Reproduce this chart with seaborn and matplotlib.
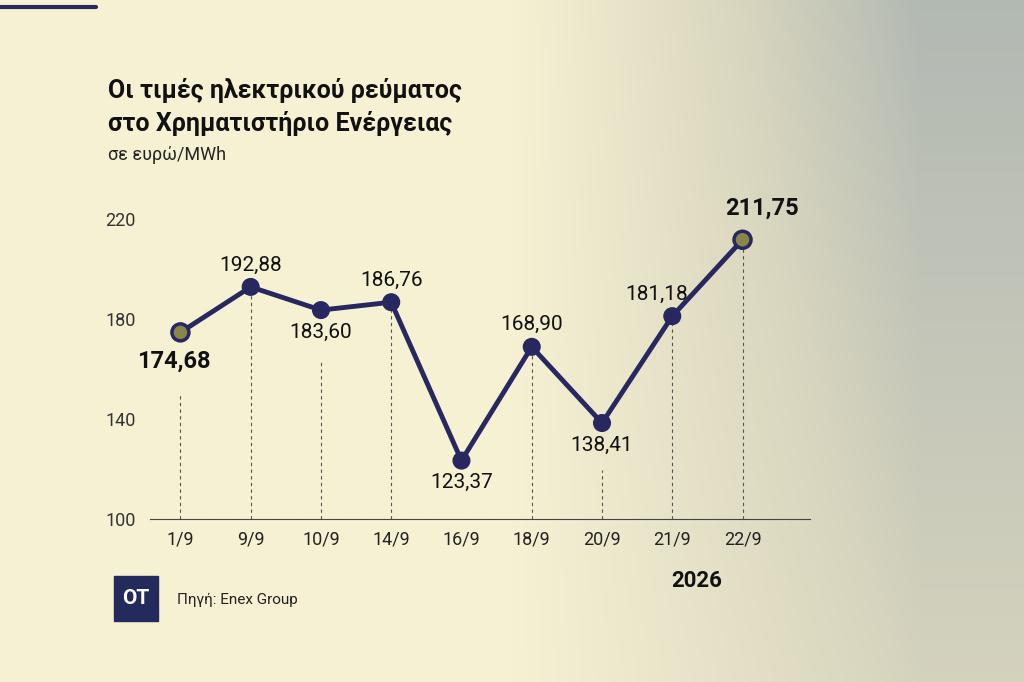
import numpy as np
import matplotlib
matplotlib.use("Agg")
import matplotlib.pyplot as plt
import seaborn as sns
import pandas as pd
from matplotlib.colors import LinearSegmentedColormap

dates = ["1/9", "9/9", "10/9", "14/9", "16/9", "18/9", "20/9", "21/9", "22/9"]
prices = [174.68, 192.88, 183.60, 186.76, 123.37, 168.90, 138.41, 181.18, 211.75]
labels = ["174,68", "192,88", "183,60", "186,76", "123,37", "168,90", "138,41", "181,18", "211,75"]
yticks = [100, 140, 180, 220]

sns.set_theme(style="white")
plt.rcParams['font.family'] = ['Roboto', 'DejaVu Sans']
navy = "#27285f"
fig = plt.figure(figsize=(10.24, 6.82), dpi=100)

bg = fig.add_axes([0, 0, 1, 1], zorder=-10)
xx = np.linspace(0, 1, 400)
yy = np.linspace(0, 1, 300)
X, Y = np.meshgrid(xx, yy)
t = np.clip((X - 0.5) / 0.4, 0, 1) * (0.55 + 0.35 * Y)
cmap = LinearSegmentedColormap.from_list("bg", ["#f6f1d3", "#d9d6bf", "#a9b2b0"])
bg.imshow(t, cmap=cmap, aspect="auto", extent=[0, 1, 0, 1], origin="lower", vmin=0, vmax=1)
bg.set_xlim(0, 1); bg.set_ylim(0, 1); bg.axis("off")
bg.plot([0, 0.094], [0.99, 0.99], color=navy, lw=3)

ax = fig.add_axes([0.146, 0.239, 0.645, 0.458])
ax.patch.set_alpha(0)
df = pd.DataFrame({"x": np.arange(len(dates)), "y": prices})
sns.lineplot(data=df, x="x", y="y", ax=ax, color=navy, lw=3.5, zorder=3)
fills = ["#8a8548" if i in (0, len(prices)-1) else navy for i in range(len(prices))]
ax.scatter(df.x, df.y, s=[150 if i in (0, 8) else 110 for i in range(9)], c=fills,
           edgecolors=navy, linewidths=2.5, zorder=4)

above = {1, 3, 5, 7, 8}
xoff = {7: -0.22, 8: 0.27, 0: -0.1}
top_dash = {0: 150, 2: 164, 4: 100, 6: 119.5}
for i, (v, lab) in enumerate(zip(prices, labels)):
    bold = i in (0, 8)
    fs = 17 if bold else 15
    fw = "bold" if bold else "normal"
    xo = xoff.get(i, 0)
    if i in above:
        ax.plot([i, i], [100, v], ls=(0, (3, 3)), color="#555555", lw=0.8, zorder=1)
        ax.text(i + xo, v + (8 if bold else 5), lab, ha="center", va="bottom", fontsize=fs, fontweight=fw, color="#111111")
    else:
        ax.plot([i, i], [100, top_dash[i]], ls=(0, (3, 3)), color="#555555", lw=0.8, zorder=1)
        dy = 7 if bold else 5
        ax.text(i + xo, v - dy, lab, ha="center", va="top", fontsize=fs, fontweight=fw, color="#111111")

ax.set_xlim(-0.44, 8.96)
ax.set_ylim(100, 225)
ax.set_yticks(yticks)
ax.set_yticklabels([str(v) for v in yticks], fontsize=13, color="#333333")
ax.set_xticks(range(len(dates)))
ax.set_xticklabels(dates, fontsize=13, color="#222222")
ax.tick_params(axis="y", length=14, color="#333333", width=0.8, pad=-4, direction="out")
ax.tick_params(axis="x", length=0, pad=8)
for s in ["top", "right", "left"]:
    ax.spines[s].set_visible(False)
ax.spines["bottom"].set_color("#444444")
ax.spines["bottom"].set_linewidth(0.8)
ax.set_xlabel(""); ax.set_ylabel("")

fig.text(0.105, 0.885, "Οι τιμές ηλεκτρικού ρεύματος\nστο Χρηματιστήριο Ενέργειας",
         fontsize=18, fontweight="bold", color="#111111", va="top", linespacing=1.4)
fig.text(0.105, 0.772, "σε ευρώ/MWh", fontsize=13, color="#222222", va="center")
fig.text(0.68, 0.148, "2026", fontsize=16, fontweight="bold", color="#111111", ha="center", va="center")
fig.patches.append(plt.Rectangle((0.111, 0.09), 0.043, 0.066, transform=fig.transFigure,
                                 color="#232a5c", zorder=5))
fig.text(0.1325, 0.123, "OT", fontsize=15, fontweight="bold", color="white", ha="center", va="center", zorder=6)
fig.text(0.173, 0.12, "Πηγή: Enex Group", fontsize=11, color="#222222", va="center")

fig.savefig("out.png", dpi=100)
